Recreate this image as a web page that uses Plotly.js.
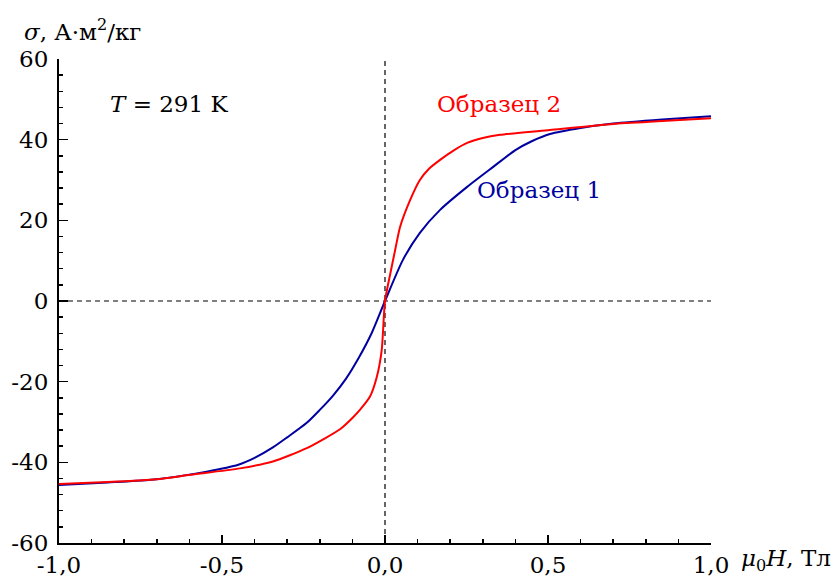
<!DOCTYPE html>
<html>
<head>
<meta charset="utf-8">
<script src="https://cdn.plot.ly/plotly-3.0.1.min.js"></script>
<style>html,body{margin:0;padding:0;background:#fff;}#chart{width:834px;height:582px;}</style>
</head>
<body>
<div id="chart"></div>
<script>
// Образец 1 (blue)
const field1 = [-1.0, -0.85, -0.70, -0.547, -0.45, -0.40, -0.344, -0.30, -0.24, -0.20, -0.16, -0.12, -0.08, -0.04, 0.0, 0.055, 0.107, 0.169, 0.252, 0.331, 0.40, 0.45, 0.506, 0.60, 0.70, 0.85, 1.0];
const sigma1 = [-45.6, -45.0, -44.2, -42.3, -40.6, -38.9, -36.3, -33.8, -30.2, -27.0, -23.5, -19.3, -14.0, -7.8, 0.0, 10.2, 16.9, 22.6, 28.3, 33.2, 37.4, 39.6, 41.4, 42.9, 44.0, 45.0, 45.8];
// Образец 2 (red)
const field2 = [-1.0, -0.85, -0.70, -0.598, -0.445, -0.344, -0.240, -0.138, -0.100, -0.077, -0.046, -0.025, -0.010, 0.0, 0.015, 0.031, 0.046, 0.077, 0.107, 0.135, 0.169, 0.21, 0.252, 0.30, 0.353, 0.506, 0.70, 0.85, 1.0];
const sigma2 = [-45.4, -44.9, -44.2, -43.1, -41.5, -39.8, -36.5, -31.8, -29.0, -27.0, -23.7, -18.8, -12.1, 0.0, 6.3, 12.6, 18.3, 25.0, 30.0, 32.8, 35.0, 37.3, 39.2, 40.4, 41.2, 42.4, 43.9, 44.6, 45.3];

const xTickVals = [-1.0, -0.5, 0.0, 0.5, 1.0];
const xTickText = ["-1,0", "-0,5", "0,0", "0,5", "1,0"];
const yTickVals = [-60, -40, -20, 0, 20, 40, 60];
const yTickText = ["-60", "-40", "-20", "0", "20", "40", "60"];

const FONT = 'DejaVu Serif';
const FS = 23;

const traces = [
  {x: field1, y: sigma1, mode: 'lines', name: 'Образец 1',
   line: {color: '#0000a0', width: 2, shape: 'spline', smoothing: 0.7}, hoverinfo: 'skip'},
  {x: field2, y: sigma2, mode: 'lines', name: 'Образец 2',
   line: {color: '#ff0000', width: 2, shape: 'spline', smoothing: 0.6}, hoverinfo: 'skip'}
];

const layout = {
  width: 834, height: 582,
  margin: {l: 59, r: 123, t: 59, b: 39},
  paper_bgcolor: '#fff', plot_bgcolor: '#fff',
  showlegend: false,
  font: {family: FONT, size: FS, color: '#000'},
  xaxis: {
    range: [-1, 1], tickmode: 'array', tickvals: xTickVals, ticktext: xTickText,
    ticks: 'inside', ticklen: 8, tickwidth: 1.5, tickcolor: '#000',
    showline: true, linecolor: '#000', linewidth: 2, showgrid: false, zeroline: false,
    minor: {tickmode: 'linear', tick0: 0, dtick: 0.1, ticks: 'inside', ticklen: 4, tickwidth: 1.5, tickcolor: '#000', showgrid: false},
    tickfont: {family: FONT, size: FS, color: '#000'}, ticklabelstandoff: 0
  },
  yaxis: {
    range: [-60, 60], tickmode: 'array', tickvals: yTickVals, ticktext: yTickText,
    ticks: 'inside', ticklen: 9, tickwidth: 1.5, tickcolor: '#000',
    showline: true, linecolor: '#000', linewidth: 2, showgrid: false, zeroline: false,
    minor: {tickmode: 'linear', tick0: 0, dtick: 4, ticks: 'inside', ticklen: 4, tickwidth: 1.5, tickcolor: '#000', showgrid: false},
    tickfont: {family: FONT, size: FS, color: '#000'}, ticklabelstandoff: 4
  },
  shapes: [
    {type: 'line', xref: 'x', yref: 'y', x0: 0, x1: 0, y0: -60, y1: 60, line: {color: '#000', width: 1.2, dash: '5px,4px'}, layer: 'below'},
    {type: 'line', xref: 'x', yref: 'y', x0: -1, x1: 1, y0: 0, y1: 0, line: {color: '#000', width: 1.2, dash: '5px,4px'}, layer: 'below'}
  ],
  annotations: [
    {xref: 'x', yref: 'y', x: -0.85, y: 48.8, xanchor: 'left', yanchor: 'middle', showarrow: false,
     text: '<i>T</i> = 291 K', font: {family: FONT, size: FS, color: '#000'}},
    {xref: 'x', yref: 'y', x: 0.153, y: 48.8, xanchor: 'left', yanchor: 'middle', showarrow: false,
     text: 'Образец 2', font: {family: FONT, size: FS, color: '#ff0000'}},
    {xref: 'x', yref: 'y', x: 0.276, y: 27.5, xanchor: 'left', yanchor: 'middle', showarrow: false,
     text: 'Образец 1', font: {family: FONT, size: FS, color: '#0000a0'}},
    {xref: 'paper', yref: 'paper', x: -0.057, y: 1.06, xanchor: 'left', yanchor: 'middle', showarrow: false,
     text: '<i>σ</i>, А·м<sup>2</sup>/кг', font: {family: FONT, size: FS, color: '#000'}},
    {xref: 'paper', yref: 'paper', x: 1.043, y: -0.035, xanchor: 'left', yanchor: 'middle', showarrow: false,
     text: '<i>μ</i><sub>0</sub><i>H</i>, Тл', font: {family: FONT, size: FS, color: '#000'}}
  ]
};

Plotly.newPlot('chart', traces, layout, {staticPlot: true, displayModeBar: false});
</script>
</body>
</html>
